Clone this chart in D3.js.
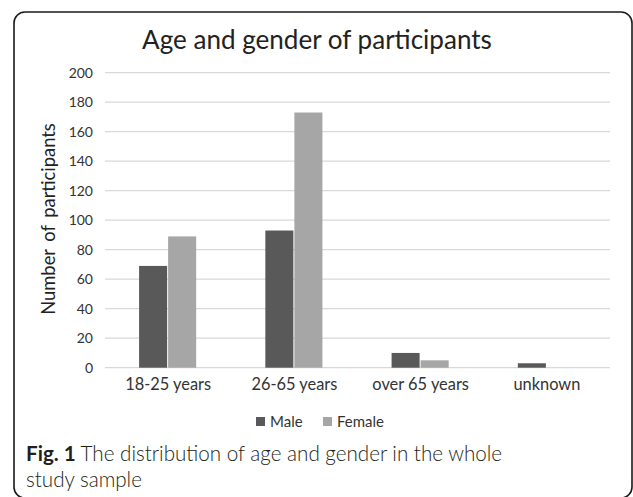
<!DOCTYPE html>
<html>
<head>
<meta charset="utf-8">
<script src="https://cdn.jsdelivr.net/npm/d3@7"></script>
<style>
  body { margin: 0; background: #fff; }
  svg text { font-family: Lato, "Open Sans", sans-serif; }
</style>
</head>
<body>
<svg id="chart" width="633" height="497"></svg>
<script>
    var categories = ["18-25 years", "26-65 years", "over 65 years", "unknown"];
    var series = ["Male", "Female"];
    var male = [69, 93, 10, 3];
    var female = [89, 173, 5, 0];
    var yTicks = [0, 20, 40, 60, 80, 100, 120, 140, 160, 180, 200];
    var colors = ["#595959", "#a6a6a6"];

    var svg = d3.select("#chart");

    // scale a text's font so it spans the width seen in the picture
    function fitWidth(sel, target) {
        var node = sel.node();
        var fs = parseFloat(sel.attr("font-size"));
        var w = node.getComputedTextLength();
        sel.attr("font-size", (fs * target / w).toFixed(2));
    }

    // frame round the figure
    svg.append("rect")
        .attr("x", 14).attr("y", 12)
        .attr("width", 618).attr("height", 486)
        .attr("rx", 11).attr("ry", 11)
        .attr("fill", "none")
        .attr("stroke", "#1a1a1a")
        .attr("stroke-width", 1.6);

    var plotLeft = 105, plotRight = 610, plotTop = 72.7, plotBottom = 367.7;

    var x0 = d3.scaleBand()
        .domain(categories)
        .range([plotLeft, plotRight])
        .paddingInner(0.54)
        .paddingOuter(0.27);

    var x1 = d3.scaleBand()
        .domain(series)
        .range([0, x0.bandwidth()]);

    var y = d3.scaleLinear()
        .domain([0, 200])
        .range([plotBottom, plotTop]);

    // gridlines
    svg.append("g")
        .selectAll("line")
        .data(yTicks)
        .enter()
        .append("line")
        .attr("x1", plotLeft).attr("x2", plotRight)
        .attr("y1", d => y(d)).attr("y2", d => y(d))
        .attr("stroke", "#d9d9d9")
        .attr("stroke-width", 1.2);

    // y axis labels
    var yAxis = svg.append("g")
        .attr("transform", "translate(" + plotLeft + ",0)")
        .call(d3.axisLeft(y).tickValues(yTicks).tickSize(0).tickPadding(12));
    yAxis.select(".domain").remove();
    yAxis.selectAll("text")
        .attr("font-size", 14)
        .attr("font-family", "Lato, sans-serif")
        .attr("fill", "#333");

    // x axis labels
    var xAxis = svg.append("g")
        .attr("transform", "translate(0," + plotBottom + ")")
        .call(d3.axisBottom(x0).tickSize(0).tickPadding(0));
    xAxis.select(".domain").remove();
    xAxis.selectAll("text")
        .attr("dy", null)
        .attr("y", 22)
        .attr("font-size", 15)
        .attr("font-family", "Lato, sans-serif")
        .attr("fill", "#333");
    var firstLabel = xAxis.select(".tick text");
    fitWidth(firstLabel, 86);
    xAxis.selectAll("text").attr("font-size", firstLabel.attr("font-size"));

    // bars
    var groups = svg.append("g")
        .selectAll("g")
        .data(categories)
        .enter()
        .append("g")
        .attr("transform", d => "translate(" + x0(d) + ",0)");

    groups.selectAll("rect")
        .data((d, i) => [male[i], female[i]])
        .enter()
        .append("rect")
        .attr("x", (d, j) => x1(series[j]))
        .attr("y", d => y(d))
        .attr("width", x1.bandwidth() - 1)
        .attr("height", d => plotBottom - y(d))
        .attr("fill", (d, j) => colors[j]);

    // title
    var title = svg.append("text")
        .attr("x", 317).attr("y", 49)
        .attr("text-anchor", "middle")
        .attr("font-size", 22)
        .attr("fill", "#222")
        .text("Age and gender of participants");
    fitWidth(title, 350);

    // y axis title
    var yTitle = svg.append("text")
        .attr("transform", "translate(55,219) rotate(-90)")
        .attr("text-anchor", "middle")
        .attr("font-size", 17)
        .attr("word-spacing", 3)
        .attr("fill", "#222")
        .text("Number of participants");
    fitWidth(yTitle, 192);

    // legend
    var legend = svg.append("g").attr("transform", "translate(256,417)");
    var lx = [0, 67];
    series.forEach(function(s, j) {
        legend.append("rect")
            .attr("x", lx[j]).attr("y", 0)
            .attr("width", 9).attr("height", 9)
            .attr("fill", colors[j]);
        legend.append("text")
            .attr("x", lx[j] + 14).attr("y", 9.5)
            .attr("font-size", 15)
            .attr("fill", "#333")
            .text(s);
    });

    // caption
    var cap = svg.append("text")
        .attr("x", 26).attr("y", 461)
        .attr("font-family", "'Open Sans', sans-serif")
        .attr("font-size", 18)
        .attr("fill", "#231f20");
    cap.append("tspan").attr("font-weight", "bold").text("Fig. 1");
    cap.append("tspan").attr("font-weight", 300).text(" The distribution of age and gender in the whole");
    fitWidth(cap, 476);
    svg.append("text")
        .attr("x", 26).attr("y", 487)
        .attr("font-family", "'Open Sans', sans-serif")
        .attr("font-weight", 300)
        .attr("font-size", cap.attr("font-size"))
        .attr("fill", "#231f20")
        .text("study sample");
</script>
</body>
</html>
